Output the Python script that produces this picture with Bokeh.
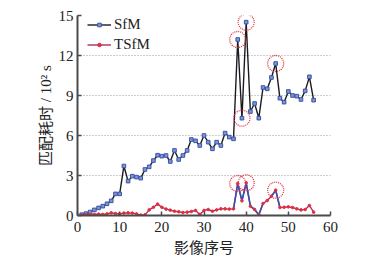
from bokeh.plotting import figure
from bokeh.models import Range1d, FixedTicker
from bokeh.core.properties import value
from bokeh.embed import file_html
from bokeh.resources import INLINE

# ---- data ----
frames = list(range(1, 57))
sfm = [0.06, 0.14, 0.26, 0.42, 0.57, 0.70, 0.88, 1.10, 1.62, 1.62,
       3.71, 2.58, 2.95, 2.88, 2.80, 3.45, 3.65, 4.12, 4.52, 4.45,
       4.50, 4.05, 4.88, 4.20, 4.50, 4.88, 5.70, 5.60, 5.25, 6.00,
       5.50, 5.00, 5.50, 5.25, 6.18, 5.88, 5.75, 13.2, 7.30, 14.5,
       7.80, 8.40, 7.30, 9.60, 9.50, 10.35, 11.4, 8.80, 8.50, 9.30,
       9.00, 8.95, 8.70, 9.35, 10.4, 8.65]
tsfm = [0.03, 0.05, 0.06, 0.08, 0.10, 0.08, 0.12, 0.20, 0.15, 0.12,
        0.18, 0.20, 0.18, 0.12, 0.03, 0.05, 0.42, 0.62, 0.85, 0.62,
        0.48, 0.40, 0.32, 0.28, 0.22, 0.25, 0.30, 0.38, 0.08, 0.38,
        0.45, 0.32, 0.42, 0.50, 0.50, 0.48, 0.50, 2.40, 1.10, 2.45,
        0.70, 0.45, 0.05, 0.90, 1.12, 1.45, 1.90, 0.60, 0.62, 0.65,
        0.60, 0.50, 0.42, 0.45, 0.75, 0.25]
sfm_marked = [38, 39, 40, 47]
tsfm_marked = [38, 40, 47]
tsfm_blue_spans = [(37, 44), (46, 48)]
x_ticks = [0, 10, 20, 30, 40, 50, 60]
y_ticks = [0, 3, 6, 9, 12, 15]
grid_ticks = [3, 6, 9, 12]
x_label = "影像序号"
y_label = "匹配耗时 / 10² s"
names = ["SfM", "TSfM"]

BLUE = "#3c55a8"
RED = "#a8305e"
DOT = "#e03040"
AX = "#4a4a4a"
SERIF = "Liberation Serif"

p = figure(width=387, height=262, x_range=Range1d(0, 60), y_range=Range1d(0, 15),
           output_backend="svg", toolbar_location=None,
           min_border_left=77, min_border_right=57, min_border_top=15, min_border_bottom=47)
p.outline_line_color = None
p.background_fill_color = "white"
p.border_fill_color = "white"

# SfM
p.line(frames, sfm, line_color="#1a1a22", line_width=1.4, legend_label=names[0])
p.scatter(frames, sfm, marker="square", size=3.6, line_color=BLUE, fill_color="#7f95d0",
          line_width=1, legend_label=names[0])

# TSfM
p.line(frames, tsfm, line_color=RED, line_width=1.4, legend_label=names[1])
for a, b in tsfm_blue_spans:
    xs = [f for f in frames if a <= f <= b]
    ys = [tsfm[f - 1] for f in xs]
    p.line(xs, ys, line_color="#3a50b0", line_width=1.6)
p.scatter(frames, tsfm, marker="circle", size=2.6, line_color=DOT, fill_color=DOT,
          legend_label=names[1])

# dotted highlight circles
p.scatter(sfm_marked, [sfm[f - 1] for f in sfm_marked], marker="circle", size=16,
          fill_alpha=0, line_color=DOT, line_width=1.3, line_dash=value("1 2.5"))
p.scatter(tsfm_marked, [tsfm[f - 1] for f in tsfm_marked], marker="circle", size=16,
          fill_alpha=0, line_color=DOT, line_width=1.3, line_dash=value("1 2.5"))

# axes
p.xaxis.ticker = FixedTicker(ticks=x_ticks)
p.yaxis.ticker = FixedTicker(ticks=y_ticks)
for ax in (p.xaxis[0], p.yaxis[0]):
    ax.axis_line_width = 2
    ax.axis_line_color = AX
    ax.major_tick_in = 4
    ax.major_tick_out = 0
    ax.major_tick_line_color = AX
    ax.major_tick_line_width = 1.5
    ax.minor_tick_line_color = None
    ax.major_label_text_font = SERIF
    ax.major_label_text_font_size = "15px"
    ax.major_label_text_color = "#222222"
    ax.axis_label_text_font = "Liberation Serif, Noto Sans CJK SC"
    ax.axis_label_text_font_size = "15px"
    ax.axis_label_text_font_style = "normal"
    ax.axis_label_text_color = "#222222"
p.xaxis.axis_label = x_label
p.yaxis.axis_label = y_label
p.xaxis.major_label_standoff = 6
p.yaxis.major_label_standoff = 4
p.xaxis.axis_label_standoff = 5
p.yaxis.axis_label_standoff = 2

p.xgrid.visible = False
p.ygrid.ticker = FixedTicker(ticks=grid_ticks)
p.ygrid.grid_line_color = "#9a9a9a"
p.ygrid.grid_line_dash = "1 2"
p.ygrid.grid_line_width = 1

# legend
lg = p.legend[0]
lg.location = (10, 162)
lg.margin = 0
lg.padding = 0
lg.spacing = 2
lg.glyph_width = 24
lg.glyph_height = 9
lg.label_height = 18
lg.label_standoff = 3
lg.label_text_font = SERIF
lg.label_text_font_size = "15px"
lg.label_text_color = "#222222"
lg.background_fill_alpha = 0
lg.border_line_color = None

open("out.html", "w").write(file_html(p, INLINE))
